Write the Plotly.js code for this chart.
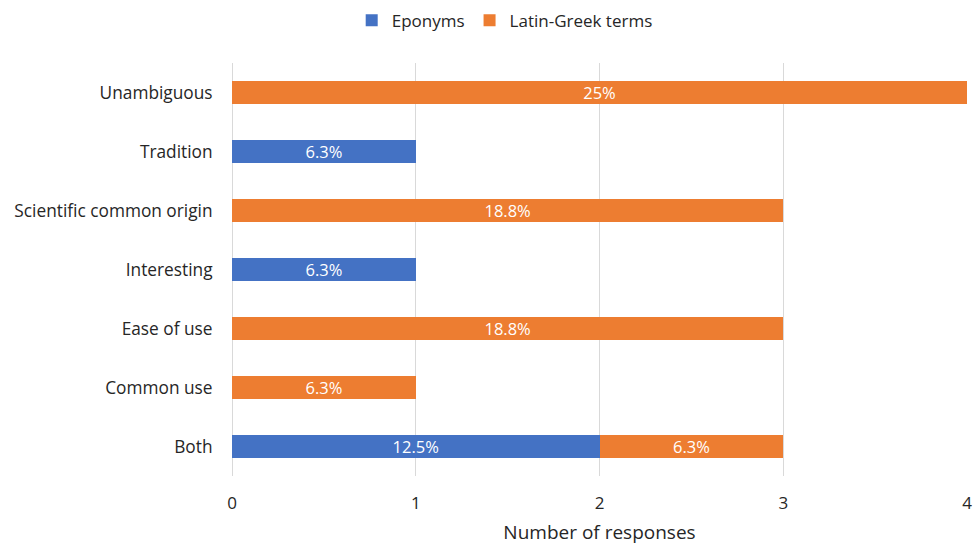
<!DOCTYPE html>
<html>
<head>
<meta charset="utf-8">
<script src="https://cdn.plot.ly/plotly-3.0.1.min.js"></script>
<style>html,body{margin:0;padding:0;background:#fff;}#chart{width:980px;height:545px;}</style>
</head>
<body>
<div id="chart"></div>
<script>
const categories = ["Both", "Common use", "Ease of use", "Interesting", "Scientific common origin", "Tradition", "Unambiguous"];
const eponyms = [2, 0, 0, 1, 0, 1, 0];
const eponymLabels = ["12.5%", "", "", "6.3%", "", "6.3%", ""];
const latinGreek = [1, 1, 3, 0, 3, 0, 4];
const latinGreekLabels = ["6.3%", "6.3%", "18.8%", "", "18.8%", "", "25%"];
const xTicks = [0, 1, 2, 3, 4];

const font = "'Open Sans', 'Noto Sans', sans-serif";
const traces = [
  {
    type: "bar", orientation: "h", name: "Eponyms",
    y: categories, x: eponyms, text: eponymLabels,
    marker: {color: "#4472C4"},
    textposition: "inside", insidetextanchor: "middle", textangle: 0,
    constraintext: "none",
    textfont: {color: "#ffffff", size: 16.5, family: font},
    hoverinfo: "x+y+name"
  },
  {
    type: "bar", orientation: "h", name: "Latin-Greek terms",
    y: categories, x: latinGreek, text: latinGreekLabels,
    marker: {color: "#ED7D31"},
    textposition: "inside", insidetextanchor: "middle", textangle: 0,
    constraintext: "none",
    textfont: {color: "#ffffff", size: 16.5, family: font},
    hoverinfo: "x+y+name"
  }
];

const layout = {
  width: 980, height: 545,
  barmode: "stack",
  bargap: 0.61,
  paper_bgcolor: "#ffffff", plot_bgcolor: "#ffffff",
  font: {family: font, size: 17, color: "#262626"},
  margin: {l: 232, r: 13, t: 63, b: 69},
  showlegend: true,
  legend: {
    orientation: "h", xref: "container", yref: "container",
    x: 0.515, xanchor: "center", y: 0.995, yanchor: "top",
    font: {size: 17, color: "#262626"},
    traceorder: "normal", itemwidth: 30
  },
  xaxis: {
    range: [0, 4], tickvals: xTicks, ticktext: xTicks.map(String),
    showgrid: true, gridcolor: "#d9d9d9", gridwidth: 1,
    zeroline: true, zerolinecolor: "#d9d9d9", zerolinewidth: 1,
    showline: false, ticks: "outside", ticklen: 12, tickcolor: "rgba(0,0,0,0)",
    tickfont: {size: 17, color: "#262626"},
    title: {text: "Number of responses", font: {size: 19, color: "#262626"}, standoff: 17},
    fixedrange: true
  },
  yaxis: {
    type: "category", categoryorder: "array", categoryarray: categories,
    range: [-0.5, 6.5],
    showgrid: false, zeroline: false, showline: false,
    ticks: "outside", ticklen: 15, tickcolor: "rgba(0,0,0,0)",
    tickfont: {size: 17.3, color: "#262626"},
    fixedrange: true
  },
  uniformtext: {mode: false}
};

Plotly.newPlot("chart", traces, layout, {displayModeBar: false, staticPlot: true});
</script>
</body>
</html>
